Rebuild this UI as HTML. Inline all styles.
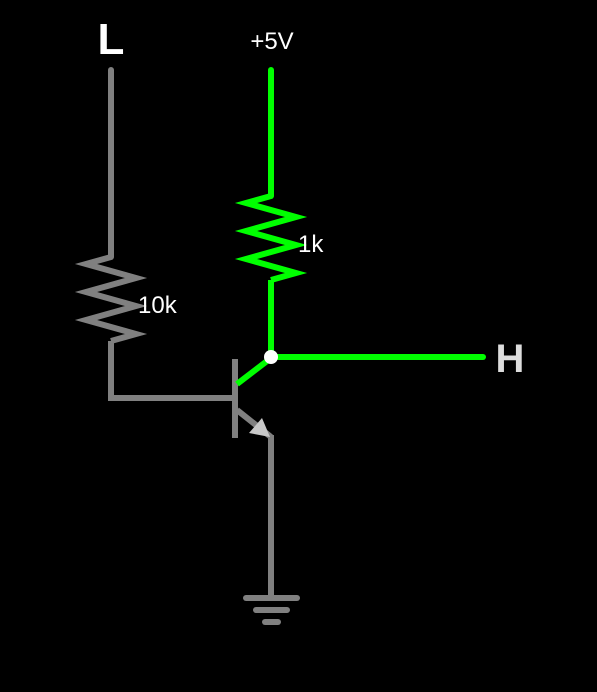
<!DOCTYPE html>
<html><head><meta charset="utf-8"><style>
html,body{margin:0;padding:0;background:#000;}
svg{display:block;}
text{font-family:"Liberation Sans",sans-serif;}
</style></head><body>
<svg width="597" height="692" viewBox="0 0 597 692">
<rect width="597" height="692" fill="#000"/>
<g fill="none" stroke-width="6" stroke-linejoin="miter">
 <polyline stroke="#808080" stroke-linecap="round" points="111,70 111,257"/>
 <polyline stroke="#808080" points="111,257 86,264 136,278 86,292 136,306 86,320 136,334 111,341"/>
 <polyline stroke="#808080" points="111,341 111,398 235,398"/>
 <line stroke="#808080" x1="235" y1="359" x2="235" y2="438"/>
 <polyline stroke="#00ff00" stroke-linecap="round" points="271,70 271,196"/>
 <polyline stroke="#00ff00" points="271,196 246,203 296,217 246,231 296,245 246,259 296,273 271,280"/>
 <polyline stroke="#00ff00" points="271,280 271,357"/>
 <line stroke="#00ff00" x1="237" y1="384" x2="271" y2="358"/>
 <line stroke="#00ff00" stroke-linecap="round" x1="271" y1="357" x2="483" y2="357"/>
 <line stroke="#808080" x1="237" y1="410" x2="271" y2="437"/>
 <line stroke="#808080" x1="271" y1="435" x2="271" y2="598"/>
 <g stroke="#808080" stroke-linecap="round">
  <line x1="246" y1="598" x2="297" y2="598"/>
  <line x1="256" y1="610" x2="287" y2="610"/>
  <line x1="265" y1="622" x2="278" y2="622"/>
 </g>
</g>
<polygon points="270,437 249,433 262,418" fill="#c8c8c8"/>
<circle cx="271" cy="357" r="7" fill="#fff"/>
<text x="111" y="54" fill="#fff" font-size="44" font-weight="bold" text-anchor="middle">L</text>
<text x="272" y="49" fill="#fff" font-size="24" text-anchor="middle">+5V</text>
<text x="510" y="372" fill="#ddd" font-size="40" font-weight="bold" text-anchor="middle">H</text>
<text x="138" y="313" fill="#fff" font-size="24">10k</text>
<text x="298" y="252" fill="#fff" font-size="24">1k</text>
</svg>
</body></html>
